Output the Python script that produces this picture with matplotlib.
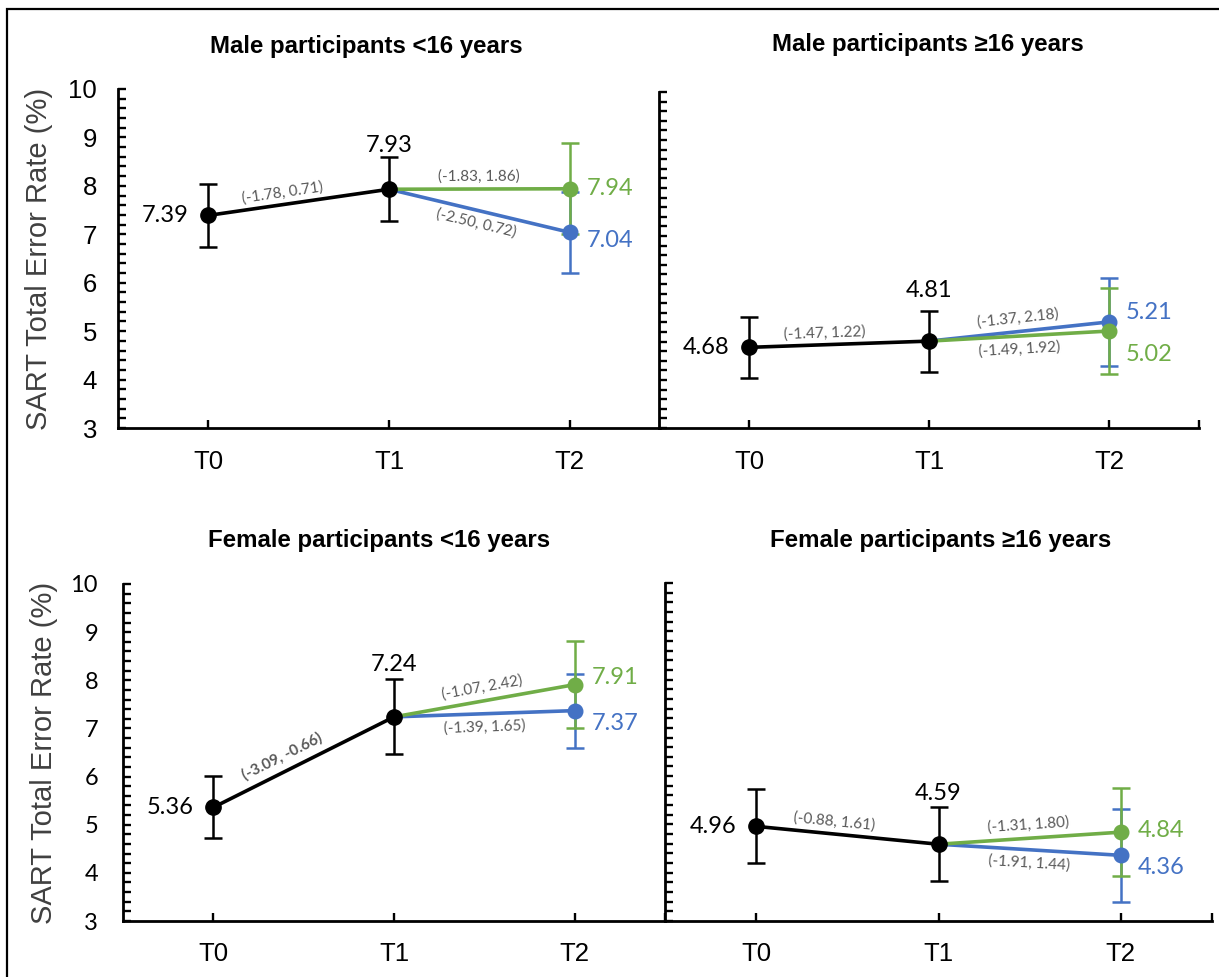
import math

import numpy as np
import matplotlib

matplotlib.use("Agg")
import matplotlib.pyplot as plt
from matplotlib.patches import Rectangle
from matplotlib.ticker import MultipleLocator

# --- data ---------------------------------------------------------------
titles = ["Male participants <16 years", "Male participants \u226516 years",
          "Female participants <16 years", "Female participants \u226516 years"]
timepoints = ["T0", "T1", "T2"]

t0_mean = [7.39, 4.68, 5.36, 4.96]
t1_mean = [7.93, 4.81, 7.24, 4.59]
t2_green = [7.94, 5.02, 7.91, 4.84]
t2_blue = [7.04, 5.21, 7.37, 4.36]

t0_err = [0.65, 0.635, 0.645, 0.765]
t1_err = [0.66, 0.635, 0.78, 0.765]
green_err = [0.94, 0.89, 0.90, 0.91]
blue_err = [0.83, 0.91, 0.77, 0.96]

ci_first = ["(-1.78, 0.71)", "(-1.47, 1.22)", "(-3.09, -0.66)", "(-0.88, 1.61)"]
ci_green = ["(-1.83, 1.86)", "(-1.49, 1.92)", "(-1.07, 2.42)", "(-1.31, 1.80)"]
ci_blue = ["(-2.50, 0.72)", "(-1.37, 2.18)", "(-1.39, 1.65)", "(-1.91, 1.44)"]
ci_bold = [False, False, True, False]

# --- layout / style ------------------------------------------------------
W, H = 1219, 977
GREEN = "#70AD47"
BLUE = "#4472C4"
GREY = "#595959"
ARIAL = "Liberation Sans"
CALIBRI = "Lato"
PX = 0.72  # points per pixel at dpi 100

# axes boxes in pixels: left, right, top, bottom
boxes = [(118, 660, 89, 428), (659, 1199, 92, 428),
         (123, 665, 584, 921), (665, 1212, 583, 921)]
title_pos = [(366, 47), (928, 45), (379, 540), (941, 540)]
t1_lift = [44, 51, 52, 51]           # px above the T1 point
green_dy = [0, -23, 7, 2]            # px shift of the green T2 value label
blue_dy = [-8, 9, -13, -12]
green_side = [1, -1, 1, 1]           # CI label above (+1) or below (-1) line
blue_side = [-1, 1, -1, -1]

fig = plt.figure(figsize=(W / 100, H / 100), dpi=100)
fig.patch.set_facecolor("white")

# outer frame (only top and left edges fall inside the picture)
fig.add_artist(Rectangle((7 / W, -0.1), 1.2, 1 - 9 / H + 0.1, transform=fig.transFigure,
                         fill=False, lw=1.6, ec="black", clip_on=False))


def seg_label(ax, x0, y0, x1, y1, frac, text, side, bold=False, dist=13):
    p0 = ax.transData.transform((x0, y0))
    p1 = ax.transData.transform((x1, y1))
    dx, dy = p1 - p0
    ang = math.degrees(math.atan2(dy, dx))
    ln = math.hypot(dx, dy)
    nx, ny = -dy / ln, dx / ln
    off = dist * side * PX
    ax.annotate(text, (x0 + frac * (x1 - x0), y0 + frac * (y1 - y0)),
                xytext=(nx * off, ny * off), textcoords="offset points",
                rotation=ang, rotation_mode="anchor", ha="center", va="center",
                fontsize=11, color=GREY, family=CALIBRI,
                fontweight="bold" if bold else "normal")


for i in range(4):
    l, r, t, b = boxes[i]
    ax = fig.add_axes([l / W, 1 - b / H, (r - l) / W, (b - t) / H])
    ax.set_xlim(-0.5, 2.5)
    ax.set_ylim(3, 10)
    for s in ("top", "right"):
        ax.spines[s].set_visible(False)
    for s in ("left", "bottom"):
        ax.spines[s].set_linewidth(2)
    ax.set_xticks(range(3))
    ax.set_xticklabels(timepoints, fontsize=18.5, family=ARIAL)
    ax.set_xticks([2.5], minor=True)
    ax.yaxis.set_major_locator(MultipleLocator(1))
    ax.yaxis.set_minor_locator(MultipleLocator(0.2))
    ax.tick_params(axis="both", which="both", direction="in", length=5.5, width=1.7)
    ax.tick_params(axis="x", pad=16 if i < 2 else 15)

    if i % 2 == 0:
        if i == 0:
            ax.tick_params(axis="y", pad=15, labelsize=18.5)
            for lab in ax.get_yticklabels():
                lab.set_family(ARIAL)
        else:
            ax.tick_params(axis="y", pad=18, labelsize=17)
            for lab in ax.get_yticklabels():
                lab.set_family(CALIBRI)
        ax.set_ylabel("SART Total Error Rate (%)", fontsize=21, family=ARIAL, color="#404040")
        ax.yaxis.set_label_coords(-0.12, 0.5)
    else:
        ax.tick_params(axis="y", labelleft=False)

    # error bars
    ax.errorbar([2], [t2_blue[i]], yerr=[blue_err[i]], fmt="none", ecolor=BLUE,
                elinewidth=1.8, capsize=6.5, capthick=1.8, zorder=2)
    ax.errorbar([2], [t2_green[i]], yerr=[green_err[i]], fmt="none", ecolor=GREEN,
                elinewidth=1.8, capsize=6.5, capthick=1.8, zorder=2.1)
    ax.errorbar([0, 1], [t0_mean[i], t1_mean[i]], yerr=[t0_err[i], t1_err[i]],
                fmt="none", ecolor="black", elinewidth=1.8, capsize=6.5, capthick=1.8,
                zorder=2.2)

    # lines and markers
    ax.plot([1, 2], [t1_mean[i], t2_blue[i]], color=BLUE, lw=2.6, zorder=3,
            marker="o", markevery=[1], ms=10.5)
    ax.plot([1, 2], [t1_mean[i], t2_green[i]], color=GREEN, lw=2.6, zorder=3.1,
            marker="o", markevery=[1], ms=10.5)
    ax.plot([0, 1], [t0_mean[i], t1_mean[i]], color="black", lw=2.6, zorder=4,
            marker="o", ms=11)

    # value labels
    ax.annotate(f"{t0_mean[i]:.2f}", (0, t0_mean[i]), xytext=(-20 * PX, 0),
                textcoords="offset points", ha="right", va="center",
                fontsize=17, family=CALIBRI)
    ax.annotate(f"{t1_mean[i]:.2f}", (1, t1_mean[i]), xytext=(0, t1_lift[i] * PX),
                textcoords="offset points", ha="center", va="center",
                fontsize=17, family=CALIBRI)
    ax.annotate(f"{t2_green[i]:.2f}", (2, t2_green[i]), xytext=(17 * PX, green_dy[i] * PX),
                textcoords="offset points", ha="left", va="center",
                fontsize=17, family=CALIBRI, color=GREEN)
    ax.annotate(f"{t2_blue[i]:.2f}", (2, t2_blue[i]), xytext=(17 * PX, blue_dy[i] * PX),
                textcoords="offset points", ha="left", va="center",
                fontsize=17, family=CALIBRI, color=BLUE)

    # confidence-interval labels along the segments
    seg_label(ax, 0, t0_mean[i], 1, t1_mean[i], 0.42, ci_first[i], 1,
              bold=ci_bold[i], dist=15 if ci_bold[i] else 12)
    seg_label(ax, 1, t1_mean[i], 2, t2_green[i], 0.5, ci_green[i], green_side[i])
    seg_label(ax, 1, t1_mean[i], 2, t2_blue[i], 0.5, ci_blue[i], blue_side[i])

    tx, ty = title_pos[i]
    fig.text(tx / W, 1 - ty / H, titles[i], ha="center", va="center",
             fontsize=17.3, fontweight="bold", family=ARIAL)

fig.savefig("out.png", dpi=100)
